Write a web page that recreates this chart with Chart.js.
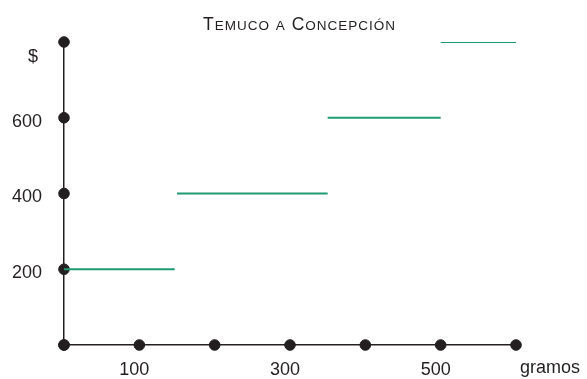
<!DOCTYPE html>
<html>
<head>
<meta charset="utf-8">
<script src="https://cdn.jsdelivr.net/npm/chart.js@4"></script>
<style>
    html, body { margin: 0; padding: 0; background: #fff; }
    #wrap { width: 587px; height: 379px; }
</style>
</head>
<body>
<div id="wrap"><canvas id="chart"></canvas></div>
<script>
// Step tariff: grams range -> price
const stepFrom = [0, 150, 350, 500];
const stepTo = [147, 350, 500, 600];
const stepPrice = [200, 400, 600, 800];

// Dots marked on the axes
const xDots = [0, 100, 200, 300, 400, 500, 600];
const yDots = [0, 200, 400, 600, 800];

// Tick labels shown
const xLabels = { 100: '100', 300: '300', 500: '500' };
const yLabels = { 200: '200', 400: '400', 600: '600' };

const titleText = 'Temuco a Concepción';
const xUnit = 'gramos';
const yUnit = '$';

const green = '#1f9a72';
const ink = '#231f20';
const font = "'Liberation Sans', Arial, sans-serif";

// Build the datasets
const datasets = stepPrice.map((p, i) => ({
    type: 'line',
    data: [{ x: stepFrom[i], y: p }, { x: stepTo[i], y: p }],
    borderColor: green,
    borderWidth: 2,
    pointRadius: 0,
    fill: false
}));

const axisDots = xDots.map(v => ({ x: v, y: 0 })).concat(yDots.map(v => ({ x: 0, y: v })));
datasets.push({
    type: 'scatter',
    data: axisDots,
    backgroundColor: ink,
    borderColor: ink,
    borderWidth: 1,
    pointRadius: 5.3,
    clip: false
});

// Title in small caps, drawn letter by letter
function drawSmallCaps(ctx, text, cx, baseline) {
    const big = '17.5px ' + font, small = '13.5px ' + font, gap = 1;
    const parts = [];
    let width = 0;
    for (const ch of text) {
        const isCap = ch === ch.toUpperCase();
        ctx.font = isCap ? big : small;
        const c = ch.toUpperCase();
        const w = ctx.measureText(c).width;
        parts.push({ c: c, f: ctx.font, w: w });
        width += w + gap;
    }
    width -= gap;
    let x = cx - width / 2;
    ctx.textAlign = 'left';
    ctx.textBaseline = 'alphabetic';
    parts.forEach(p => {
        ctx.font = p.f;
        ctx.fillText(p.c, x, baseline);
        x += p.w + gap;
    });
}

// Title and unit labels beside the ends of the axes
const extraText = {
    id: 'extraText',
    afterDraw(chart) {
        const ctx = chart.ctx;
        const xs = chart.scales.x, ys = chart.scales.y;
        ctx.save();
        ctx.fillStyle = ink;
        drawSmallCaps(ctx, titleText, 299, 29.5);
        ctx.font = '18px ' + font;
        ctx.textAlign = 'center';
        ctx.textBaseline = 'middle';
        ctx.fillText(xUnit, xs.getPixelForValue(600) + 34, ys.getPixelForValue(0) + 23);
        ctx.fillText(yUnit, 33, ys.getPixelForValue(800) + 15);
        ctx.restore();
    }
};

new Chart(document.getElementById('chart'), {
    data: { datasets: datasets },
    options: {
        responsive: true,
        maintainAspectRatio: false,
        animation: false,
        layout: { padding: { left: 0, right: 71, top: 42, bottom: 0 } },
        plugins: {
            legend: { display: false },
            tooltip: { enabled: false },
            title: { display: false }
        },
        scales: {
            x: {
                type: 'linear',
                min: 0,
                max: 600,
                afterFit: s => { s.height = 34; },
                afterBuildTicks: s => { s.ticks = xDots.map(v => ({ value: v })); },
                grid: { display: false, drawTicks: false },
                border: { display: true, color: ink, width: 1.5 },
                ticks: {
                    padding: 14,
                    labelOffset: -5,
                    maxRotation: 0,
                    autoSkip: false,
                    color: ink,
                    font: { family: font, size: 18 },
                    callback: v => xLabels[v] || ''
                }
            },
            y: {
                type: 'linear',
                min: 0,
                max: 800,
                afterFit: s => { s.width = 64; },
                afterBuildTicks: s => { s.ticks = yDots.map(v => ({ value: v })); },
                grid: { display: false, drawTicks: false },
                border: { display: true, color: ink, width: 1.5 },
                ticks: {
                    padding: 22,
                    labelOffset: 4,
                    autoSkip: false,
                    color: ink,
                    font: { family: font, size: 18 },
                    callback: v => yLabels[v] || ''
                }
            }
        }
    },
    plugins: [extraText]
});
</script>
</body>
</html>
